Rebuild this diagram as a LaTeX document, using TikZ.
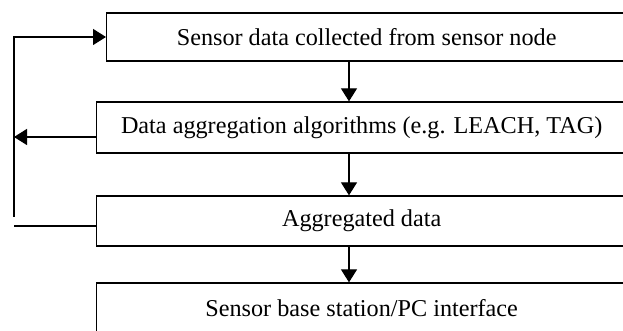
\documentclass[tikz,border=0pt]{standalone}
\usepackage{fontspec}
\setmainfont{Liberation Serif}
\usetikzlibrary{arrows.meta}
\tikzset{
  stage/.style={draw, line width=0.65pt, rectangle, anchor=west, font=\fontsize{12.1}{14}\selectfont},
  flow/.style={line width=0.65pt, -{Triangle[length=6.5pt,width=8pt]}},
}
\begin{document}
\begin{tikzpicture}[x=0.5pt,y=-0.5pt]
      \useasboundingbox (0,0) rectangle (623,331);
      \node[stage, minimum width=260pt, minimum height=24pt] (collect) at (106,37) {Sensor data collected from sensor node};
      \node[stage, minimum width=265pt, minimum height=25.5pt] (algo) at (96,127.5) {Data aggregation algorithms (e.g. LEACH, TAG)};
      \node[stage, minimum width=265pt, minimum height=25pt] (agg) at (96,221) {Aggregated data};
      \node[stage, minimum width=265pt, minimum height=25pt] (base) at (96,308) {Sensor base station/PC interface};
      \coordinate (ax) at (349,0);
      \coordinate (fbtop) at (14,37);
      \coordinate (fbmid) at (14,137);
      \coordinate (fbbot) at (14,217);
      \coordinate (fbtail) at (14,226);
      % down the chain
      \draw[flow] (collect.south -| ax) -- (algo.north -| ax);
      \draw[flow] (algo.south -| ax) -- (agg.north -| ax);
      \draw[flow] (agg.south -| ax) -- (base.north -| ax);
      % feedback loop
      \draw[flow] (fbbot) -- (fbtop) -- (collect.west);
      \draw[flow] (fbmid -| algo.west) -- (fbmid);
      \draw[line width=0.65pt] (fbtail) -- (fbtail -| agg.west);
    \end{tikzpicture}
\end{document}
